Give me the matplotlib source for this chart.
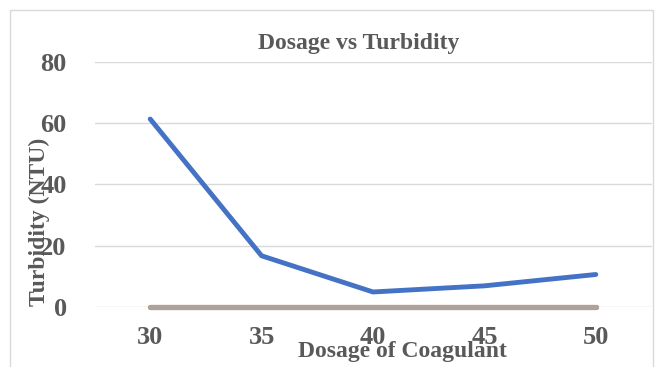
import numpy as np
import matplotlib.pyplot as plt
from matplotlib.patches import Rectangle

dosage = ["30", "35", "40", "45", "50"]
turbidity = [61.3, 16.7, 4.9, 6.9, 10.6]
series2 = [0, 0, 0, 0, 0]
series3 = [0, 0, 0, 0, 0]
yticks = [0, 20, 40, 60, 80]

plt.rcParams["font.family"] = ["Liberation Serif", "DejaVu Serif"]
plt.rcParams["font.weight"] = "bold"
text_color = "#595959"

W, H = 662, 367
fig = plt.figure(figsize=(W / 100, H / 100), dpi=100)

# chart border
fig.patches.append(Rectangle((10 / W, -0.05), 643 / W, 1 - 10 / H + 0.05,
                             transform=fig.transFigure, fill=False,
                             edgecolor="#d9d9d9", linewidth=1))

left, right = 94.5 / W, 651.5 / W
bottom, top = 1 - 307 / H, 1 - 61.7 / H
ax = fig.add_axes([left, bottom, right - left, top - bottom])

x = np.arange(len(dosage))
ax.plot(x, series2, color="#ed7d31", linewidth=3.8, solid_capstyle="round",
        zorder=3, clip_on=False)
ax.plot(x, series3, color="#a5a5a5", linewidth=3.5, solid_capstyle="round",
        zorder=4, clip_on=False)
ax.plot(x, turbidity, color="#4472c4", linewidth=3.5, solid_capstyle="round",
        zorder=5, clip_on=False)

ax.set_xlim(-0.5, len(dosage) - 0.5)
ax.set_ylim(0, 80)
ax.set_yticks(yticks)
ax.set_xticks(x)
ax.set_xticklabels(dosage)
ax.yaxis.grid(True, color="#d9d9d9", linewidth=1)
ax.set_axisbelow(True)
for s in ax.spines.values():
    s.set_visible(False)
ax.tick_params(length=0, labelsize=19, labelcolor=text_color)
ax.tick_params(axis="y", pad=20)
ax.tick_params(axis="x", pad=14)

fig.text(359 / W, 1 - 43 / H, "Dosage vs Turbidity", ha="center", va="center",
         fontsize=17, color=text_color, fontweight="bold")
fig.text(402 / W, 1 - 352 / H, "Dosage of Coagulant", ha="center", va="center",
         fontsize=17, color=text_color, fontweight="bold")
fig.text(39 / W, 1 - 222 / H, "Turbidity (NTU)", ha="center", va="center",
         rotation=90, fontsize=17, color=text_color, fontweight="bold")

fig.savefig("out.png", dpi=100)
